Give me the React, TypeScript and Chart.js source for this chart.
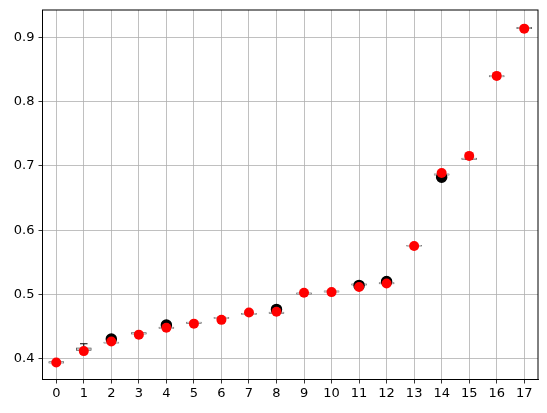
import React, { useEffect, useRef } from 'react';
import { Chart, registerables } from 'chart.js';

Chart.register(...registerables);

const categories = ['0', '1', '2', '3', '4', '5', '6', '7', '8', '9', '10', '11', '12', '13', '14', '15', '16', '17'];
const boxLow = [0.393, 0.413, 0.424, 0.438, 0.447, 0.455, 0.4625, 0.469, 0.4705, 0.5005, 0.5035, 0.5145, 0.5165, 0.575, 0.6855, 0.710, 0.8385, 0.9135];
const boxHigh = [0.3955, 0.417, 0.426, 0.4405, 0.449, 0.457, 0.4645, 0.4705, 0.4725, 0.5025, 0.5055, 0.5165, 0.5185, 0.5765, 0.6875, 0.712, 0.8405, 0.9155];
const medians = [0.3945, 0.415, 0.425, 0.4395, 0.448, 0.456, 0.4635, 0.4698, 0.4714, 0.5016, 0.5046, 0.5155, 0.5175, 0.5757, 0.6865, 0.711, 0.8395, 0.9145];
const whiskerLow = [0.393, 0.411, 0.424, 0.438, 0.447, 0.455, 0.4625, 0.469, 0.4705, 0.5005, 0.5035, 0.5145, 0.5165, 0.575, 0.6855, 0.710, 0.8385, 0.9135];
const whiskerHigh = [0.3955, 0.4232, 0.426, 0.4405, 0.449, 0.457, 0.4645, 0.4705, 0.4725, 0.5025, 0.5055, 0.5165, 0.5185, 0.5765, 0.6875, 0.712, 0.8405, 0.9155];
const outliers = [null, null, 0.4305, null, 0.4524, null, null, null, 0.4767, null, null, 0.514, 0.520, null, 0.6823, null, null, null];
const redPoints = [0.394, 0.4118, 0.4268, 0.4374, 0.4482, 0.4545, 0.4604, 0.4719, 0.4729, 0.5026, 0.5036, 0.5114, 0.517, 0.5753, 0.689, 0.7155, 0.840, 0.9135];
const yTicks = [0.4, 0.5, 0.6, 0.7, 0.8, 0.9];

const FONT = { family: "'DejaVu Sans', sans-serif", size: 13 };
const BOX_W = 15;

// medians + whiskers, drawn right after the box dataset
const boxExtras = {
    id: 'boxExtras',
    afterDatasetDraw(chart: any, args: any) {
        if (args.index !== 0) return;
        const ctx = chart.ctx;
        const x = chart.scales.x;
        const y = chart.scales.y;
        ctx.save();
        for (let i = 0; i < categories.length; i++) {
            const cx = x.getPixelForValue(i);
            const half = BOX_W / 2;
            ctx.lineWidth = 1;
            ctx.strokeStyle = '#000000';
            ctx.beginPath();
            ctx.moveTo(cx, y.getPixelForValue(boxHigh[i]));
            ctx.lineTo(cx, y.getPixelForValue(whiskerHigh[i]));
            ctx.moveTo(cx - half / 2, y.getPixelForValue(whiskerHigh[i]));
            ctx.lineTo(cx + half / 2, y.getPixelForValue(whiskerHigh[i]));
            ctx.moveTo(cx, y.getPixelForValue(boxLow[i]));
            ctx.lineTo(cx, y.getPixelForValue(whiskerLow[i]));
            ctx.moveTo(cx - half / 2, y.getPixelForValue(whiskerLow[i]));
            ctx.lineTo(cx + half / 2, y.getPixelForValue(whiskerLow[i]));
            ctx.stroke();
            ctx.strokeStyle = '#bdbdbd';
            ctx.beginPath();
            ctx.moveTo(cx - half, y.getPixelForValue(medians[i]));
            ctx.lineTo(cx + half, y.getPixelForValue(medians[i]));
            ctx.stroke();
        }
        ctx.restore();
    },
    afterDraw(chart: any) {
        const { left, top, right, bottom } = chart.chartArea;
        const ctx = chart.ctx;
        ctx.save();
        ctx.strokeStyle = '#000000';
        ctx.lineWidth = 1;
        ctx.strokeRect(left, top, right - left, bottom - top);
        ctx.restore();
    },
};

const App: React.FC = () => {
    const chartRef = useRef<HTMLCanvasElement>(null);
    const chartInstanceRef = useRef<Chart | null>(null);

    useEffect(() => {
        document.body.style.margin = '0';
        if (!chartRef.current) return;
        const ctx = chartRef.current.getContext('2d');
        if (!ctx) return;

        chartInstanceRef.current = new Chart(ctx, {
            type: 'bar',
            data: {
                labels: categories,
                datasets: [
                    {
                        type: 'bar',
                        data: boxLow.map((lo, i) => [lo, boxHigh[i]]),
                        backgroundColor: '#ffffff',
                        borderColor: '#333333',
                        borderWidth: 1,
                        borderSkipped: false,
                        barThickness: BOX_W,
                        order: 3,
                    },
                    {
                        type: 'line',
                        data: outliers,
                        showLine: false,
                        pointRadius: 5,
                        pointBorderWidth: 1.5,
                        pointBackgroundColor: '#000000',
                        pointBorderColor: '#000000',
                        order: 2,
                    },
                    {
                        type: 'line',
                        data: redPoints,
                        showLine: false,
                        pointRadius: 5,
                        pointBorderWidth: 0,
                        pointBackgroundColor: '#ff0000',
                        pointBorderColor: '#ff0000',
                        order: 1,
                    },
                ] as any,
            },
            options: {
                animation: false,
                responsive: false,
                maintainAspectRatio: false,
                layout: { padding: { left: 0, top: 10, right: 9, bottom: 0 } },
                plugins: {
                    legend: { display: false },
                    tooltip: { enabled: false },
                },
                scales: {
                    x: {
                        type: 'category',
                        offset: true,
                        grid: { offset: false, color: '#b0b0b0', lineWidth: 0.8, tickColor: '#000000', tickLength: 4, drawTicks: true },
                        border: { display: true, color: '#000000', width: 1 },
                        ticks: { color: '#000000', font: FONT, padding: 2, maxRotation: 0, autoSkip: false },
                        afterFit: (scale: any) => {
                            scale.height = 33.5;
                            scale.paddingLeft = 0;
                            scale.paddingRight = 0;
                        },
                    },
                    y: {
                        type: 'linear',
                        min: 0.3676,
                        max: 0.9425,
                        grid: { color: '#b0b0b0', lineWidth: 0.8, tickColor: '#000000', tickLength: 4 },
                        border: { display: true, color: '#000000', width: 1 },
                        ticks: {
                            color: '#000000',
                            font: FONT,
                            padding: 4,
                            callback: (v: any) => Number(v).toFixed(1),
                        },
                        afterBuildTicks: (scale: any) => {
                            scale.ticks = yTicks.map((v) => ({ value: v }));
                        },
                        afterFit: (scale: any) => {
                            scale.width = 42.5;
                            scale.paddingTop = 0;
                            scale.paddingBottom = 0;
                        },
                    },
                },
            },
            plugins: [boxExtras],
        });

        return () => {
            if (chartInstanceRef.current) {
                chartInstanceRef.current.destroy();
                chartInstanceRef.current = null;
            }
        };
    }, []);

    return (
        <div style={{ width: 547, height: 413 }}>
            <canvas ref={chartRef} width={547} height={413} style={{ width: 547, height: 413 }} />
        </div>
    );
};

export default App;
